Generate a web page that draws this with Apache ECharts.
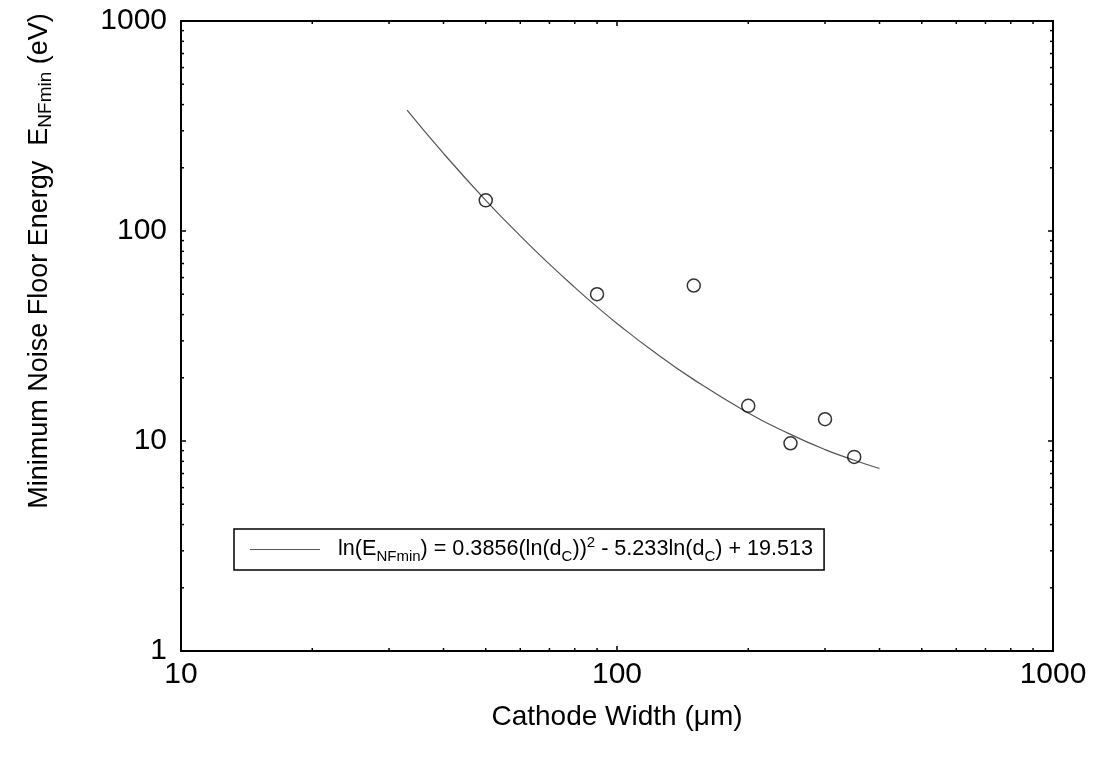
<!DOCTYPE html>
<html>
<head>
<meta charset="utf-8">
<script src="https://cdn.jsdelivr.net/npm/echarts@6/dist/echarts.min.js"></script>
<style>
html,body{margin:0;padding:0;background:#fff;}
#chart{width:1096px;height:769px;}
</style>
</head>
<body>
<div id="chart"></div>
<script>
// Measured data points (cathode width in um, noise floor energy in eV)
const pointX = [50, 90, 150, 200, 250, 300, 350];
const pointY = [140, 50, 55, 14.7, 9.75, 12.7, 8.4];

// Fitted curve, values
const fitX = [33, 40, 50, 60, 70, 80, 90, 100, 120, 150, 200, 250, 300, 350, 400];
const fitY = [376, 234, 140, 94.8, 69.5, 53.9, 43.5, 36.3, 27.1, 19.6, 13.6, 10.75, 9.1, 8.1, 7.4];

// Minor tick values
const xMinorTicks = [20, 30, 40, 50, 60, 70, 80, 90, 200, 300, 400, 500, 600, 700, 800, 900];
const yMinorTicks = [2, 3, 4, 5, 6, 7, 8, 9, 20, 30, 40, 50, 60, 70, 80, 90, 200, 300, 400, 500, 600, 700, 800, 900];

const xTitle = 'Cathode Width (\u03bcm)';
const yTitle = 'Minimum Noise Floor Energy  E{sub|NFmin} (eV)';
const fitName = 'fit';
const fitLabel = 'ln(E{sub|NFmin}) = 0.3856(ln(d{sub|C})){sup|2} - 5.233ln(d{sub|C}) + 19.513';

const FONT = 'Liberation Sans, Arial, sans-serif';
const chart = echarts.init(document.getElementById('chart'));

const axisCommon = {
  type: 'log', logBase: 10,
  axisLine: {show: true, onZero: false, lineStyle: {color: '#000', width: 2}},
  axisTick: {show: true, inside: true, length: 5, lineStyle: {color: '#000', width: 1.5}},
  splitLine: {show: false},
  minorTick: {show: false},
  minorSplitLine: {show: false}
};
const plainNum = v => String(Math.round(v));

const option = {
  animation: false,
  backgroundColor: '#fff',
  grid: {left: 181, top: 21, right: 43, bottom: 118, containLabel: false},
  xAxis: [
    Object.assign({}, axisCommon, {
      position: 'bottom', min: 10, max: 1000,
      axisLabel: {show: true, fontSize: 30, color: '#000', fontFamily: FONT, margin: 9, formatter: plainNum},
      name: xTitle, nameLocation: 'middle', nameGap: 52,
      nameTextStyle: {fontSize: 28, color: '#000', fontFamily: FONT}
    }),
    Object.assign({}, axisCommon, {
      position: 'top', min: 10, max: 1000,
      axisLabel: {show: false}
    })
  ],
  yAxis: [
    Object.assign({}, axisCommon, {
      position: 'left', min: 1, max: 1000,
      axisLabel: {show: true, fontSize: 30, color: '#000', fontFamily: FONT, margin: 14, formatter: plainNum},
      name: yTitle, nameLocation: 'middle', nameGap: 126, nameRotate: 90,
      nameTextStyle: {
        fontSize: 27, color: '#000', fontFamily: FONT, padding: [0, 0, 0, 150],
        rich: {sub: {fontSize: 19, color: '#000', fontFamily: FONT, padding: [12, 0, 0, 0]}}
      }
    }),
    Object.assign({}, axisCommon, {
      position: 'right', min: 1, max: 1000,
      axisLabel: {show: false}
    })
  ],
  legend: {
    show: true,
    left: 234, top: 529,
    orient: 'horizontal',
    padding: [6, 11, 6, 16],
    itemWidth: 70, itemHeight: 1.2,
    borderColor: '#000', borderWidth: 1.5,
    backgroundColor: '#fff',
    data: [{name: fitName, icon: 'rect', itemStyle: {color: '#555'}}],
    formatter: function () { return fitLabel; },
    textStyle: {
      fontSize: 21.6, color: '#000', fontFamily: FONT, padding: [0, 0, 0, 13],
      rich: {
        sub: {fontSize: 15, color: '#000', fontFamily: FONT, padding: [14, 0, 0, 0]},
        sup: {fontSize: 15, color: '#000', fontFamily: FONT, padding: [0, 0, 14, 0]}
      }
    }
  },
  series: [
    {
      name: fitName,
      type: 'line',
      xAxisIndex: 0, yAxisIndex: 0,
      data: fitX.map((x, i) => [x, fitY[i]]),
      smooth: true,
      symbol: 'none',
      lineStyle: {color: '#555', width: 1.2},
      itemStyle: {color: '#555'},
      z: 2
    },
    {
      name: 'data',
      type: 'scatter',
      xAxisIndex: 0, yAxisIndex: 0,
      data: pointX.map((x, i) => [x, pointY[i]]),
      symbol: 'circle',
      symbolSize: 13,
      itemStyle: {color: 'rgba(0,0,0,0)', borderColor: '#000', borderWidth: 1.5},
      z: 3
    },
    {
      name: 'xminor',
      type: 'custom',
      xAxisIndex: 0, yAxisIndex: 0,
      data: xMinorTicks.map(v => [v, 1]),
      silent: true,
      clip: false,
      renderItem: function (params, api) {
        const v = api.value(0);
        const b = api.coord([v, 1]);
        const t = api.coord([v, 1000]);
        const st = {stroke: '#000', lineWidth: 1.5};
        return {type: 'group', children: [
          {type: 'line', shape: {x1: b[0], y1: b[1], x2: b[0], y2: b[1] - 3}, style: st},
          {type: 'line', shape: {x1: t[0], y1: t[1], x2: t[0], y2: t[1] + 3}, style: st}
        ]};
      },
      z: 4
    },
    {
      name: 'yminor',
      type: 'custom',
      xAxisIndex: 0, yAxisIndex: 0,
      data: yMinorTicks.map(v => [10, v]),
      silent: true,
      clip: false,
      renderItem: function (params, api) {
        const v = api.value(1);
        const l = api.coord([10, v]);
        const r = api.coord([1000, v]);
        const st = {stroke: '#000', lineWidth: 1.5};
        return {type: 'group', children: [
          {type: 'line', shape: {x1: l[0], y1: l[1], x2: l[0] + 3, y2: l[1]}, style: st},
          {type: 'line', shape: {x1: r[0], y1: r[1], x2: r[0] - 3, y2: r[1]}, style: st}
        ]};
      },
      z: 4
    }
  ]
};
chart.setOption(option);
</script>
</body>
</html>
